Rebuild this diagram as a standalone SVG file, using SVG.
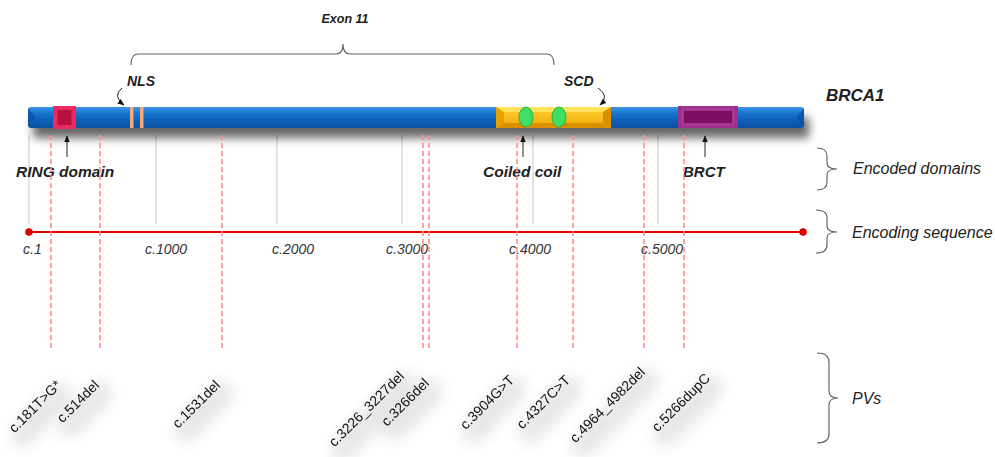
<svg xmlns="http://www.w3.org/2000/svg" width="995" height="457" viewBox="0 0 995 457">
<defs>
<style>
.lbl{font-family:"Liberation Sans",Arial,sans-serif;font-style:italic;fill:#222}
.b{font-weight:bold}
.tick{font-family:"Liberation Sans",Arial,sans-serif;font-style:italic;font-size:14px;fill:#333;font-variant-numeric:oldstyle-nums}
.pv{font-family:"Liberation Sans",Arial,sans-serif;font-size:14px;fill:#111}
.gl{stroke:#c8c8c8;stroke-width:1}
.dl{stroke:#ff8c8c;stroke-width:1.6;stroke-dasharray:5 3}
.br{fill:none;stroke:#666;stroke-width:1.2}
.ar{fill:none;stroke:#222;stroke-width:1}
</style>
<linearGradient id="blue" x1="0" y1="0" x2="0" y2="1">
<stop offset="0" stop-color="#3a95e6"/>
<stop offset="0.35" stop-color="#1470cc"/>
<stop offset="1" stop-color="#0a4f9e"/>
</linearGradient>
<linearGradient id="gold" x1="0" y1="0" x2="0" y2="1">
<stop offset="0" stop-color="#ffd23a"/>
<stop offset="1" stop-color="#f0a800"/>
</linearGradient>
<filter id="barsh" x="-5%" y="-50%" width="110%" height="280%">
<feGaussianBlur in="SourceAlpha" stdDeviation="5"/>
<feOffset dx="5" dy="10" result="o"/>
<feComponentTransfer><feFuncA type="linear" slope="0.6"/></feComponentTransfer>
<feMerge><feMergeNode/><feMergeNode in="SourceGraphic"/></feMerge>
</filter>
<filter id="txsh" x="-50%" y="-80%" width="200%" height="260%">
<feMorphology in="SourceAlpha" operator="dilate" radius="6"/>
<feGaussianBlur stdDeviation="7"/>
<feOffset dx="7" dy="8" result="o"/>
<feComponentTransfer><feFuncA type="linear" slope="0.1"/></feComponentTransfer>
<feMerge><feMergeNode/><feMergeNode in="SourceGraphic"/></feMerge>
</filter>
<marker id="ah" viewBox="0 0 10 10" refX="9" refY="5" markerWidth="7" markerHeight="7" orient="auto">
<path d="M0,1 L10,5 L0,9 z" fill="#111"/>
</marker>
</defs>
<rect width="995" height="457" fill="#fff"/>

<!-- gray guide lines -->
<g id="guides">
<line class="gl" x1="29" y1="135" x2="29" y2="224"/>
<line class="gl" x1="156" y1="135" x2="156" y2="224"/>
<line class="gl" x1="277" y1="135" x2="277" y2="224"/>
<line class="gl" x1="402" y1="135" x2="402" y2="224"/>
<line class="gl" x1="533" y1="135" x2="533" y2="224"/>
<line class="gl" x1="658" y1="135" x2="658" y2="224"/>
</g>

<!-- exon bracket -->
<g id="exon11">
<path class="br" d="M131,65 Q131,54 138,54 L336,54 Q343,54 343,44 Q343,54 350,54 L547,54 Q554,54 554,65"/>
<text class="lbl b" x="345" y="23" font-size="12.5" text-anchor="middle">Exon 11</text>
</g>

<!-- protein bar -->
<g id="brca1-bar" filter="url(#barsh)">
<rect x="28" y="107" width="776" height="21" rx="3" fill="url(#blue)"/>
<polygon points="28,108 36,117.5 28,127" fill="#0a4f9e" opacity="0.7"/>
<polygon points="804,108 796,117.5 804,127" fill="#0a4f9e" opacity="0.7"/>
</g>
<g id="ring">
<rect x="53" y="106" width="23" height="23" fill="#ec2a62"/>
<rect x="57.5" y="110" width="14" height="15" fill="#b5103f"/>
</g>
<g id="nls">
<rect x="130" y="107" width="3.5" height="21" fill="#f6a97c"/>
<rect x="140" y="107" width="3.5" height="21" fill="#f6a97c"/>
<text class="lbl b" x="127" y="86" font-size="14">NLS</text>
</g>
<g id="scd">
<rect x="496" y="107" width="115" height="21" fill="url(#gold)"/>
<polygon points="496,107 611,107 603,112 504,112" fill="#ffe15a"/>
<polygon points="496,128 611,128 603,123 504,123" fill="#d99000"/>
<polygon points="496,107 504,112 504,123 496,128" fill="#e8a000"/>
<polygon points="611,107 603,112 603,123 611,128" fill="#d99000"/>
<ellipse cx="526" cy="117" rx="7" ry="10" fill="#3ee064" stroke="#2ab04a" stroke-width="1"/>
<ellipse cx="559" cy="117" rx="7" ry="10" fill="#3ee064" stroke="#2ab04a" stroke-width="1"/>
<text class="lbl b" x="564" y="86" font-size="14">SCD</text>
</g>
<g id="brct">
<rect x="678" y="106" width="60" height="22" fill="#a0308f"/>
<rect x="683" y="110" width="50" height="14" fill="#7c0f62" stroke="#b855a8" stroke-width="1"/>
</g>
<text id="brca1-title" class="lbl b" x="826" y="101" font-size="17">BRCA1</text>

<!-- domain labels -->
<g id="ring-label">
<text class="lbl b" x="16" y="177" font-size="15.5">RING domain</text>
</g>
<g id="coiled-label">
<text class="lbl b" x="483" y="177" font-size="15.5">Coiled coil</text>
</g>
<g id="brct-label">
<text class="lbl b" x="683" y="177" font-size="15">BRCT</text>
</g>

<!-- sequence line -->
<g id="sequence">
<line x1="29" y1="232" x2="803" y2="232" stroke="#e00000" stroke-width="2.2"/>
<circle cx="29" cy="232" r="3.8" fill="#e00000"/>
<circle cx="803" cy="232" r="3.8" fill="#e00000"/>
<text class="tick" x="23" y="254">c.1</text>
<text class="tick" x="145" y="254">c.1000</text>
<text class="tick" x="272" y="254">c.2000</text>
<text class="tick" x="386" y="254">c.3000</text>
<text class="tick" x="509" y="254">c.4000</text>
<text class="tick" x="641" y="254">c.5000</text>
</g>

<!-- connectors -->
<g id="connectors">
<line class="dl" x1="51" y1="135" x2="51" y2="348"/>
<line class="dl" x1="100" y1="135" x2="100" y2="348"/>
<line class="dl" x1="222" y1="135" x2="222" y2="348"/>
<line class="dl" x1="423" y1="135" x2="423" y2="348"/>
<line class="dl" x1="429" y1="135" x2="429" y2="348"/>
<line class="dl" x1="517" y1="135" x2="517" y2="348"/>
<line class="dl" x1="573" y1="135" x2="573" y2="348"/>
<line class="dl" x1="644" y1="135" x2="644" y2="348"/>
<line class="dl" x1="684" y1="135" x2="684" y2="348"/>
<line class="ar" x1="67" y1="157" x2="67" y2="136" marker-end="url(#ah)"/>
<line class="ar" x1="523" y1="157" x2="523" y2="136" marker-end="url(#ah)"/>
<line class="ar" x1="705" y1="157" x2="705" y2="136" marker-end="url(#ah)"/>
<path class="ar" d="M122,88 Q112,96 124,105" marker-end="url(#ah)"/>
<path class="ar" d="M598,88 Q610,96 600,105" marker-end="url(#ah)"/>
</g>

<!-- PV labels -->
<g id="pv-labels" filter="url(#txsh)">
<text class="pv" text-anchor="end" transform="translate(62,386) rotate(-45)">c.181T&gt;G*</text>
<text class="pv" text-anchor="end" transform="translate(100,386) rotate(-45)">c.514del</text>
<text class="pv" text-anchor="end" transform="translate(221,386) rotate(-45)">c.1531del</text>
<text class="pv" text-anchor="end" transform="translate(405,377) rotate(-45)">c.3226_3227del</text>
<text class="pv" text-anchor="end" transform="translate(430,384) rotate(-45)">c.3266del</text>
<text class="pv" text-anchor="end" transform="translate(515,381) rotate(-45)">c.3904G&gt;T</text>
<text class="pv" text-anchor="end" transform="translate(571,381) rotate(-45)">c.4327C&gt;T</text>
<text class="pv" text-anchor="end" transform="translate(646,373) rotate(-45)">c.4964_4982del</text>
<text class="pv" text-anchor="end" transform="translate(711,379) rotate(-45)">c.5266dupC</text>
</g>

<!-- right braces -->
<g id="encoded-domains">
<path class="br" d="M817,148 Q827,148 827,156 L827,163 Q827,169 837,169 Q827,169 827,175 L827,182 Q827,190 817,190"/>
<text class="lbl" x="853" y="174" font-size="16">Encoded domains</text>
</g>
<g id="encoding-sequence">
<path class="br" d="M816,210 Q827,210 827,218 L827,226 Q827,232 837,232 Q827,232 827,238 L827,245 Q827,253 816,253"/>
<text class="lbl" x="852" y="238" font-size="16">Encoding sequence</text>
</g>
<g id="pvs">
<path class="br" d="M817,353 Q829,353 829,362 L829,391 Q829,398 838,398 Q829,398 829,405 L829,434 Q829,443 817,443"/>
<text class="lbl" x="852" y="404" font-size="16">PVs</text>
</g>
</svg>
